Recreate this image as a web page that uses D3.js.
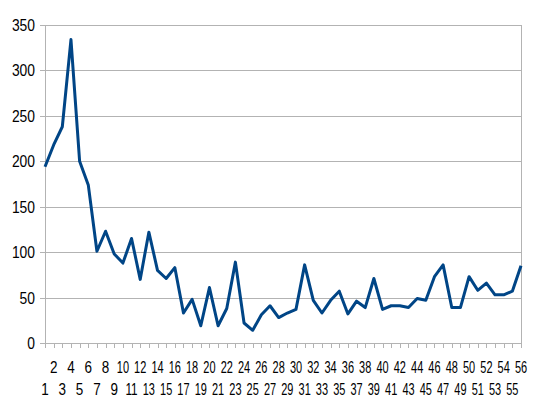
<!DOCTYPE html>
<html>
<head>
<meta charset="utf-8">
<script src="https://cdn.jsdelivr.net/npm/d3@7"></script>
<style>
  html, body { margin: 0; padding: 0; background: #fff; }
  svg { display: block; }
  text { font-family: "Liberation Sans", Arial, sans-serif; fill: #000; }
</style>
</head>
<body>
<svg id="chart" width="548" height="405"></svg>
<script>
const categories = d3.range(1, 57).map(String);
const values = [194, 218, 238, 334, 200, 174, 101, 123, 98, 88,
                115, 70, 122, 80, 71, 83, 33, 48, 19, 61,
                19, 38, 89, 22, 14, 31, 41, 28, 33, 37,
                86, 47, 33, 47, 57, 32, 46, 39, 71, 37,
                41, 41, 39, 49, 47, 73, 86, 39, 39, 73,
                58, 66, 53, 53, 57, 85];
const yTicks = [0, 50, 100, 150, 200, 250, 300, 350];

const svg = d3.select("#chart");
const plotLeft = 45, plotRight = 521, plotTop = 25, plotBottom = 343;

const x = d3.scalePoint().domain(categories).range([plotLeft, plotRight]).padding(0);
const y = d3.scaleLinear().domain([0, 350]).range([plotBottom, plotTop]);

const grid = "#b3b3b3";

// horizontal gridlines (with small outside tick)
svg.append("g").selectAll("line").data(yTicks).join("line")
  .attr("x1", plotLeft - 5).attr("x2", plotRight)
  .attr("y1", d => Math.round(y(d)) + 0.5).attr("y2", d => Math.round(y(d)) + 0.5)
  .attr("stroke", grid).attr("stroke-width", 1);

// y axis line and right border
svg.append("line").attr("x1", plotLeft + 0.5).attr("x2", plotLeft + 0.5)
  .attr("y1", plotTop).attr("y2", plotBottom + 5).attr("stroke", grid);
svg.append("line").attr("x1", plotRight + 0.5).attr("x2", plotRight + 0.5)
  .attr("y1", plotTop).attr("y2", plotBottom + 5).attr("stroke", grid);

// x tick marks
svg.append("g").selectAll("line").data(categories).join("line")
  .attr("x1", d => Math.round(x(d)) + 0.5).attr("x2", d => Math.round(x(d)) + 0.5)
  .attr("y1", plotBottom).attr("y2", plotBottom + 5)
  .attr("stroke", grid);

// y labels
svg.append("g").selectAll("text").data(yTicks).join("text")
  .attr("x", 35).attr("y", d => y(d) + 6)
  .attr("text-anchor", "end")
  .attr("font-size", 16)
  .attr("textLength", d => String(d).length * 7.7)
  .attr("lengthAdjust", "spacingAndGlyphs")
  .text(d => d);

// x labels, alternating rows
svg.append("g").selectAll("text").data(categories).join("text")
  .attr("x", d => x(d))
  .attr("y", (d, i) => (i % 2 === 1) ? 372.5 : 395)
  .attr("text-anchor", "middle")
  .attr("font-size", 16)
  .attr("textLength", d => d.length === 1 ? 7.5 : 12.2)
  .attr("lengthAdjust", "spacingAndGlyphs")
  .text(d => d);

// line
const line = d3.line().x((d, i) => x(categories[i])).y(d => y(d));
svg.append("path").datum(values)
  .attr("d", line)
  .attr("fill", "none")
  .attr("stroke", "#004586")
  .attr("stroke-width", 3)
  .attr("stroke-linejoin", "round");
</script>
</body>
</html>
